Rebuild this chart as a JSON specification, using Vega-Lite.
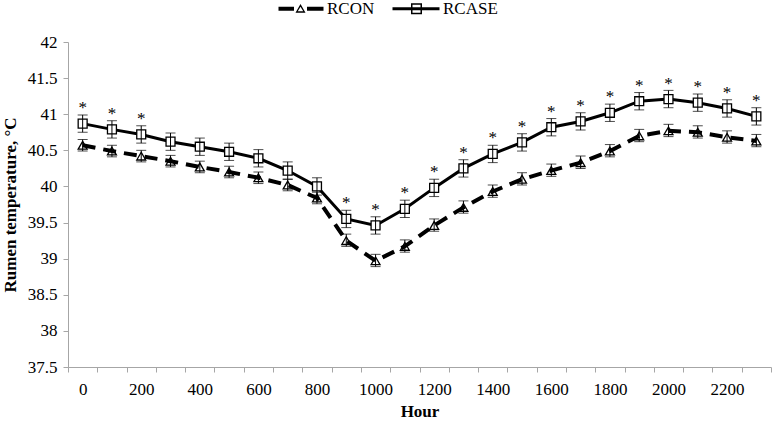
{
  "$schema": "https://vega.github.io/schema/vega-lite/v6.json",
  "width": 703,
  "height": 325,
  "autosize": "none",
  "padding": {"left": 68, "top": 42, "right": 1, "bottom": 58},
  "background": "white",
  "config": {
    "view": {"stroke": null},
    "font": "Times New Roman, Liberation Serif, serif",
    "axis": {"labelFont": "Times New Roman, Liberation Serif, serif", "titleFont": "Times New Roman, Liberation Serif, serif", "labelFontSize": 17, "titleFontSize": 17, "labelColor": "black", "titleColor": "black", "domainColor": "#a6a6a6", "tickColor": "#a6a6a6", "grid": false, "tickSize": 5, "labelOverlap": false, "labelBound": false},
    "axisY": {"labelOverlap": false},
    "legend": {"labelFont": "Times New Roman, Liberation Serif, serif", "labelFontSize": 17}
  },
  "data": {"values": [
    {"hour": 0, "series": "RCON", "temp": 40.57, "lo": 40.49, "hi": 40.65, "sig": false},
    {"hour": 100, "series": "RCON", "temp": 40.49, "lo": 40.41, "hi": 40.57, "sig": false},
    {"hour": 200, "series": "RCON", "temp": 40.42, "lo": 40.34, "hi": 40.50, "sig": false},
    {"hour": 300, "series": "RCON", "temp": 40.35, "lo": 40.27, "hi": 40.43, "sig": false},
    {"hour": 400, "series": "RCON", "temp": 40.27, "lo": 40.19, "hi": 40.35, "sig": false},
    {"hour": 500, "series": "RCON", "temp": 40.20, "lo": 40.12, "hi": 40.28, "sig": false},
    {"hour": 600, "series": "RCON", "temp": 40.12, "lo": 40.04, "hi": 40.20, "sig": false},
    {"hour": 700, "series": "RCON", "temp": 40.02, "lo": 39.94, "hi": 40.10, "sig": false},
    {"hour": 800, "series": "RCON", "temp": 39.84, "lo": 39.76, "hi": 39.92, "sig": false},
    {"hour": 900, "series": "RCON", "temp": 39.25, "lo": 39.17, "hi": 39.34, "sig": false},
    {"hour": 1000, "series": "RCON", "temp": 38.97, "lo": 38.89, "hi": 39.06, "sig": false},
    {"hour": 1100, "series": "RCON", "temp": 39.17, "lo": 39.09, "hi": 39.26, "sig": false},
    {"hour": 1200, "series": "RCON", "temp": 39.46, "lo": 39.38, "hi": 39.55, "sig": false},
    {"hour": 1300, "series": "RCON", "temp": 39.71, "lo": 39.63, "hi": 39.80, "sig": false},
    {"hour": 1400, "series": "RCON", "temp": 39.93, "lo": 39.85, "hi": 40.02, "sig": false},
    {"hour": 1500, "series": "RCON", "temp": 40.10, "lo": 40.02, "hi": 40.19, "sig": false},
    {"hour": 1600, "series": "RCON", "temp": 40.22, "lo": 40.14, "hi": 40.31, "sig": false},
    {"hour": 1700, "series": "RCON", "temp": 40.33, "lo": 40.25, "hi": 40.42, "sig": false},
    {"hour": 1800, "series": "RCON", "temp": 40.49, "lo": 40.41, "hi": 40.58, "sig": false},
    {"hour": 1900, "series": "RCON", "temp": 40.70, "lo": 40.62, "hi": 40.79, "sig": false},
    {"hour": 2000, "series": "RCON", "temp": 40.77, "lo": 40.69, "hi": 40.86, "sig": false},
    {"hour": 2100, "series": "RCON", "temp": 40.75, "lo": 40.67, "hi": 40.84, "sig": false},
    {"hour": 2200, "series": "RCON", "temp": 40.68, "lo": 40.60, "hi": 40.77, "sig": false},
    {"hour": 2300, "series": "RCON", "temp": 40.63, "lo": 40.55, "hi": 40.72, "sig": false},
    {"hour": 0, "series": "RCASE", "temp": 40.87, "lo": 40.75, "hi": 40.99, "sig": true},
    {"hour": 100, "series": "RCASE", "temp": 40.79, "lo": 40.67, "hi": 40.91, "sig": true},
    {"hour": 200, "series": "RCASE", "temp": 40.72, "lo": 40.60, "hi": 40.84, "sig": true},
    {"hour": 300, "series": "RCASE", "temp": 40.62, "lo": 40.50, "hi": 40.74, "sig": false},
    {"hour": 400, "series": "RCASE", "temp": 40.55, "lo": 40.43, "hi": 40.67, "sig": false},
    {"hour": 500, "series": "RCASE", "temp": 40.48, "lo": 40.36, "hi": 40.60, "sig": false},
    {"hour": 600, "series": "RCASE", "temp": 40.39, "lo": 40.27, "hi": 40.51, "sig": false},
    {"hour": 700, "series": "RCASE", "temp": 40.22, "lo": 40.10, "hi": 40.34, "sig": false},
    {"hour": 800, "series": "RCASE", "temp": 40.00, "lo": 39.88, "hi": 40.12, "sig": false},
    {"hour": 900, "series": "RCASE", "temp": 39.55, "lo": 39.43, "hi": 39.67, "sig": true},
    {"hour": 1000, "series": "RCASE", "temp": 39.46, "lo": 39.34, "hi": 39.58, "sig": true},
    {"hour": 1100, "series": "RCASE", "temp": 39.69, "lo": 39.57, "hi": 39.81, "sig": true},
    {"hour": 1200, "series": "RCASE", "temp": 39.98, "lo": 39.86, "hi": 40.10, "sig": true},
    {"hour": 1300, "series": "RCASE", "temp": 40.25, "lo": 40.13, "hi": 40.37, "sig": true},
    {"hour": 1400, "series": "RCASE", "temp": 40.45, "lo": 40.33, "hi": 40.57, "sig": true},
    {"hour": 1500, "series": "RCASE", "temp": 40.61, "lo": 40.49, "hi": 40.73, "sig": true},
    {"hour": 1600, "series": "RCASE", "temp": 40.82, "lo": 40.70, "hi": 40.94, "sig": true},
    {"hour": 1700, "series": "RCASE", "temp": 40.90, "lo": 40.78, "hi": 41.02, "sig": true},
    {"hour": 1800, "series": "RCASE", "temp": 41.02, "lo": 40.90, "hi": 41.14, "sig": true},
    {"hour": 1900, "series": "RCASE", "temp": 41.18, "lo": 41.06, "hi": 41.30, "sig": true},
    {"hour": 2000, "series": "RCASE", "temp": 41.21, "lo": 41.09, "hi": 41.33, "sig": true},
    {"hour": 2100, "series": "RCASE", "temp": 41.16, "lo": 41.04, "hi": 41.28, "sig": true},
    {"hour": 2200, "series": "RCASE", "temp": 41.08, "lo": 40.96, "hi": 41.20, "sig": true},
    {"hour": 2300, "series": "RCASE", "temp": 40.97, "lo": 40.85, "hi": 41.09, "sig": true}
  ]},
  "encoding": {
    "x": {
      "field": "hour", "type": "ordinal",
      "scale": {"type": "band", "paddingInner": 0, "paddingOuter": 0},
      "axis": {"title": "Hour", "titleFontWeight": "bold", "labelAngle": 0, "tickBand": "extent", "labelExpr": "datum.value % 200 === 0 ? datum.label : ''", "labelPadding": 9, "titlePadding": 6, "labelOverlap": false}
    },
    "y": {"field": "temp", "type": "quantitative", "scale": {"domain": [37.5, 42], "nice": false, "zero": false},
      "axis": {"title": "Rumen temperature, °C", "titleFontWeight": "bold", "values": [37.5, 38, 38.5, 39, 39.5, 40, 40.5, 41, 41.5, 42], "format": ".1~f", "labelPadding": 6, "titlePadding": 8, "labelOverlap": false}}
  },
  "layer": [
    {
      "transform": [{"filter": "datum.series === 'RCON'"}],
      "mark": {"type": "line", "color": "black", "strokeDash": [13, 8], "strokeWidth": 4},
      "encoding": {}
    },
    {
      "transform": [{"filter": "datum.series === 'RCASE'"}],
      "mark": {"type": "line", "color": "black", "strokeWidth": 3},
      "encoding": {}
    },
    {
      "mark": {"type": "point", "filled": false, "size": 80, "opacity": 1, "strokeWidth": 1.3, "color": "black"},
      "encoding": {
        "shape": {"condition": {"test": "datum.series === 'RCASE'", "value": "square"}, "value": "triangle-up"},
        "fill": {"condition": {"test": "datum.series === 'RCASE'", "value": "white"}, "value": "transparent"}
      }
    },
    {
      "mark": {"type": "point", "filled": true, "size": 80, "opacity": 0, "color": "black", "strokeWidth": 0},
      "encoding": {
        "shape": {"field": "series", "type": "nominal", "scale": {"domain": ["RCON", "RCASE"], "range": [
            "M-4.4,-0.4H-1.3V0.4H-4.4Z M1.3,-0.4H4.6V0.4H1.3Z M0,-0.95L1,0.8L-1,0.8Z M0,-0.4L-0.55,0.52L0.55,0.52Z",
            "M-4.8,-0.3H4.6V0.3H-4.8Z M-1.1,-1.1H1.1V1.1H-1.1Z M-0.8,-0.8V0.8H0.8V-0.8Z"
          ]},
          "legend": {
            "title": null, "orient": "none", "direction": "horizontal", "legendX": 224, "legendY": -42,
            "padding": 0, "symbolSize": 100, "labelOffset": 18, "columnPadding": 17,
            "labelFontSize": 17, "labelColor": "black",
            "symbolOpacity": 1, "symbolFillColor": "black", "symbolStrokeWidth": 0
          }}
      }
    },
    {
      "mark": {"type": "rule", "color": "black", "strokeWidth": 1},
      "encoding": {
        "y": {"field": "lo", "type": "quantitative"},
        "y2": {"field": "hi"}
      }
    },
    {
      "mark": {"type": "tick", "color": "black", "size": 10, "thickness": 1, "orient": "horizontal"},
      "encoding": {"y": {"field": "lo", "type": "quantitative"}}
    },
    {
      "mark": {"type": "tick", "color": "black", "size": 10, "thickness": 1, "orient": "horizontal"},
      "encoding": {"y": {"field": "hi", "type": "quantitative"}}
    },
    {
      "transform": [{"filter": "datum.sig"}],
      "mark": {"type": "text", "text": "*", "fontSize": 17, "baseline": "alphabetic", "dy": -10.5, "color": "black"},
      "encoding": {}
    }
  ]
}
